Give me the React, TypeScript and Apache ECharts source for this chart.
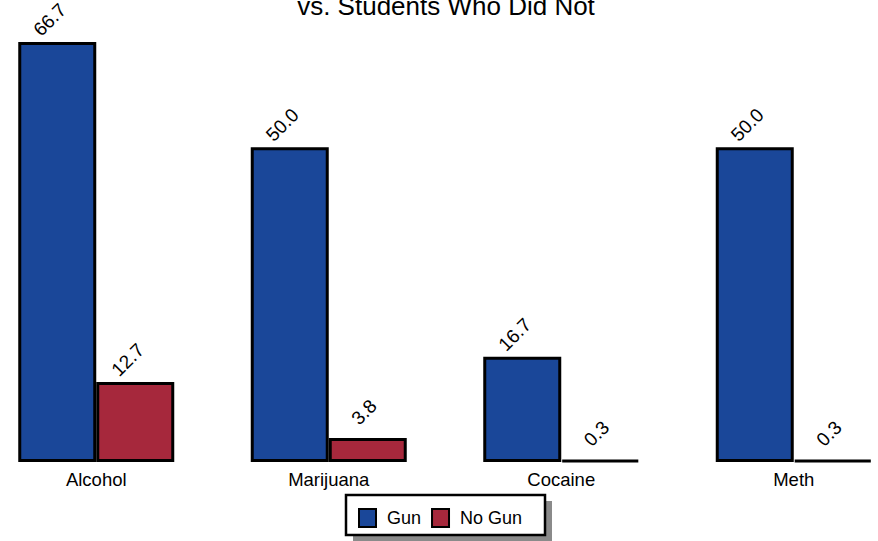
import React, { useEffect, useRef } from "react";
import * as echarts from "echarts";

const categories = ["Alcohol", "Marijuana", "Cocaine", "Meth"];
const gunValues = [66.7, 50.0, 16.7, 50.0];
const noGunValues = [12.7, 3.8, 0.3, 0.3];
const seriesNames = ["Gun", "No Gun"];
const titleText = "vs. Students Who Did Not";

const FONT = "'Liberation Sans', Arial, Helvetica, sans-serif";
const BLUE = "#1a4799";
const RED = "#a6283c";
const SHIFT = 20; // chart canvas extends 20px left of the visible page

export default function App() {
  const ref = useRef<HTMLDivElement>(null);
  useEffect(() => {
    if (!ref.current) return;
    const chart = echarts.init(ref.current, undefined, { renderer: "svg" });
    const label = {
      show: true,
      position: "top" as const,
      distance: 0,
      rotate: 45,
      align: "right" as const,
      verticalAlign: "middle" as const,
      offset: [29, -21],
      color: "#000",
      fontSize: 19,
      fontFamily: FONT,
      formatter: (p: any) => Number(p.value).toFixed(1),
    };
    chart.setOption({
      animation: false,
      backgroundColor: "#fff",
      textStyle: { fontFamily: FONT },
      grid: { left: 0, right: 0, top: 42, bottom: 79, containLabel: false },
      xAxis: {
        type: "category",
        data: categories,
        axisLine: { show: false },
        axisTick: { show: false },
        axisLabel: { color: "#000", fontSize: 18.5, fontFamily: FONT, margin: 8 },
      },
      yAxis: {
        type: "value",
        min: 0,
        max: 66.7,
        show: false,
        splitLine: { show: false },
      },
      legend: {
        data: seriesNames,
        left: 358 + SHIFT,
        top: 508,
        icon: "rect",
        itemWidth: 17,
        itemHeight: 18,
        itemGap: 10,
        padding: 0,
        textStyle: { color: "#000", fontSize: 18, fontFamily: FONT, padding: [0, 0, 0, 6] },
        z: 10,
      },
      graphic: [
        {
          type: "rect",
          z: 1,
          shape: { x: 353 + SHIFT, y: 501, width: 199, height: 40 },
          style: { fill: "#8a8a8a" },
        },
        {
          type: "rect",
          z: 2,
          shape: { x: 346 + SHIFT, y: 495, width: 199, height: 40 },
          style: { fill: "#fff", stroke: "#000", lineWidth: 2.5 },
        },
        {
          type: "text",
          z: 2,
          x: 446 + SHIFT,
          y: 6,
          style: {
            text: titleText,
            fontSize: 26,
            fontFamily: FONT,
            fill: "#000",
            align: "center",
            verticalAlign: "middle",
          },
        },
      ],
      series: [
        {
          name: seriesNames[0],
          type: "bar",
          data: gunValues,
          barWidth: 78,
          barGap: "0%",
          itemStyle: { color: BLUE, borderColor: "#000", borderWidth: 3 },
          label,
        },
        {
          name: seriesNames[1],
          type: "bar",
          data: noGunValues,
          barWidth: 78,
          barGap: "0%",
          itemStyle: { color: RED, borderColor: "#000", borderWidth: 3 },
          label,
        },
      ],
    });
    return () => chart.dispose();
  }, []);
  return (
    <div style={{ position: "absolute", left: 0, top: 0, width: 878, height: 541, overflow: "hidden", background: "#fff" }}>
      <div ref={ref} style={{ position: "absolute", left: -SHIFT, top: 0, width: 930, height: 541 }} />
    </div>
  );
}
